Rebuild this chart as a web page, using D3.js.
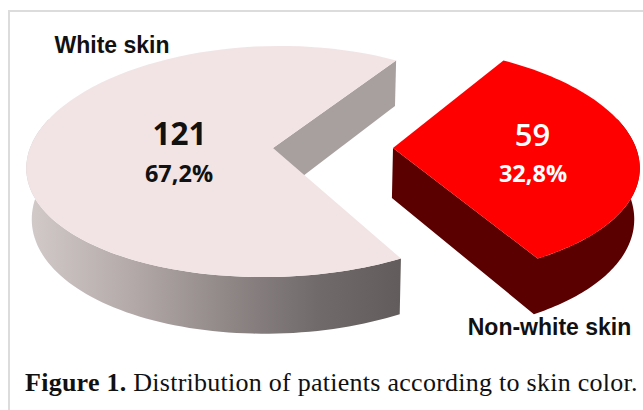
<!DOCTYPE html>
<html lang="en">
<head>
<meta charset="UTF-8">
<title>Figure 1</title>
<script src="https://cdn.jsdelivr.net/npm/d3@7"></script>
<style>
  html, body { margin: 0; padding: 0; background: #fff; }
  svg { display: block; }
</style>
</head>
<body>
<div id="chart"></div>
<script>
const categories = ["White skin", "Non-white skin"];
const counts = [121, 59];
const percents = ["67,2%", "32,8%"];

const width = 643, height = 410;
const rad = Math.PI / 180;

// flat disc seen in perspective: p/px = foreshortening, vx = vanishing column
const rx = 243, ry = 114, cy = 148, p = 0.117, px = 0.14, vx = 333, depth = 50, shrink = 0.018;
const centers = [273, 393];
const fills = ["#f2e4e4", "#ff0000"];
const startDeg = 150.5;

const svg = d3.select("#chart").append("svg")
  .attr("width", width)
  .attr("height", height);

const grad = svg.append("defs").append("linearGradient")
  .attr("id", "wall")
  .attr("gradientUnits", "userSpaceOnUse")
  .attr("x1", 30).attr("x2", 400).attr("y1", 0).attr("y2", 0);
[[0, "#d2c9c9"], [0.27, "#b4aaaa"], [0.54, "#8f8686"], [0.78, "#706a6a"], [1, "#625c5c"]]
  .forEach(s => grad.append("stop").attr("offset", s[0]).attr("stop-color", s[1]));

// frame
svg.append("path")
  .attr("d", `M9,${height}V11H${width}`)
  .attr("fill", "none")
  .attr("stroke", "#dcdcdc")
  .attr("stroke-width", 2);

const slices = d3.pie().sort(null)
  .startAngle(startDeg * rad)
  .endAngle((startDeg + 360) * rad)(counts);

function project(cx, r, a, z) {
  const u = r * Math.sin(a), v = -r * Math.cos(a);
  const s = 1 / (1 - p * v), sx = 1 / (1 - px * v);
  return [
    vx + (cx + rx * u - vx) * sx * (1 - shrink * z),
    cy + ry * v * s + depth * z * s
  ];
}

const line = d3.line();

function arcPoints(cx, a0, a1, z) {
  const n = 80;
  return d3.range(n + 1).map(i => project(cx, 1, a0 + (a1 - a0) * i / n, z));
}

function addPath(points, fill) {
  svg.append("path").attr("d", line(points) + "Z").attr("fill", fill);
}

const white = slices[0], red = slices[1];
const wx = centers[0], rxc = centers[1];

// white slice: inner wall, outer wall, top
addPath([project(wx, 0, 0, 0), project(wx, 1, white.endAngle, 0),
         project(wx, 1, white.endAngle, 1), project(wx, 0, 0, 1)], "#a89f9f");
addPath(arcPoints(wx, white.startAngle, 285 * rad, 0)
  .concat(arcPoints(wx, 285 * rad, white.startAngle, 1)), "url(#wall)");
addPath([project(wx, 0, 0, 0)].concat(arcPoints(wx, white.startAngle, white.endAngle, 0)), fills[0]);

// red slice: cut wall + outer wall, top
addPath([project(rxc, 0, 0, 0), project(rxc, 0, 0, 1)]
  .concat(arcPoints(rxc, red.endAngle, 75 * rad + 2 * Math.PI, 1))
  .concat(arcPoints(rxc, 75 * rad + 2 * Math.PI, red.endAngle, 0)), "#5a0000");
addPath([project(rxc, 0, 0, 0)].concat(arcPoints(rxc, red.startAngle, red.endAngle, 0)), fills[1]);

function label(txt, x, y, font, size, weight, color) {
  svg.append("text")
    .attr("x", x).attr("y", y)
    .attr("font-family", font)
    .attr("font-size", size)
    .attr("font-weight", weight)
    .attr("fill", color)
    .attr("text-anchor", "middle")
    .text(txt);
}

const sans = "'Liberation Sans', Arial, sans-serif";
const open = "'Open Sans', sans-serif";
label(categories[0], 112, 53, sans, 23, 700, "#111");
label(categories[1], 549.5, 335, sans, 23, 700, "#111");

label(counts[0], 179.5, 145, open, 31.5, 700, "#111");
label(percents[0], 179, 182, open, 23.5, 700, "#111");
label(counts[1], 532.5, 146, open, 31, 600, "#fff");
label(percents[1], 533, 182, open, 23.5, 700, "#fff");

const caption = svg.append("text")
  .attr("x", 25).attr("y", 391)
  .attr("font-family", "'Liberation Serif', serif")
  .attr("font-size", 26)
  .attr("letter-spacing", 0.26)
  .attr("fill", "#111");
caption.append("tspan").attr("font-weight", 700).text("Figure 1.");
caption.append("tspan").text(" Distribution of patients according to skin color.");
</script>
</body>
</html>
